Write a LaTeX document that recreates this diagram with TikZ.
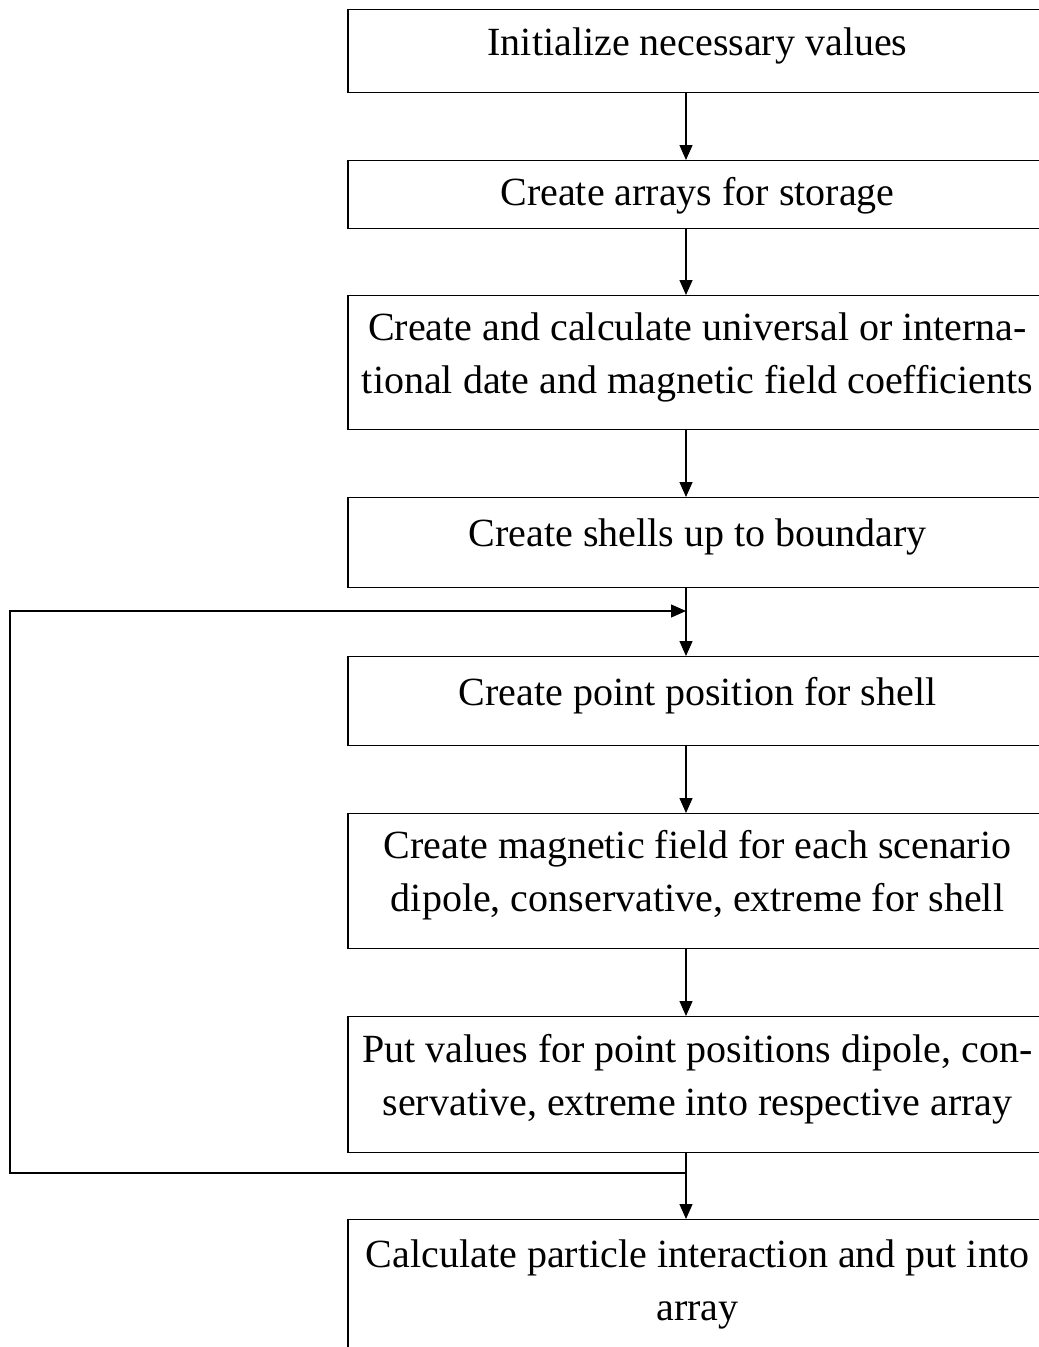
\documentclass[tikz,border=0pt]{standalone}
\usepackage{fontspec}
\setmainfont{Liberation Serif}
\usetikzlibrary{arrows.meta,positioning}

\begin{document}
\begin{tikzpicture}[x=1pt,y=1pt,
  stepbox/.style={draw, line width=1.3pt, minimum width=699pt, inner sep=0pt,
    align=center, anchor=north, text depth=20pt,
    font=\fontsize{40}{53}\selectfont},
  flow/.style={line width=1.3pt, -{Triangle[length=15pt,width=13pt]}}]
\useasboundingbox (0,0) rectangle (1039,-1347);
\coordinate (axis) at (686,0);
% main column
\node[stepbox, minimum height=83pt] (init) at (697.5,-9) {Initialize necessary values};
\node[stepbox, minimum height=68pt, text depth=7pt] (arrays) at (697.5,-160) {Create arrays for storage};
\node[stepbox, minimum height=134pt] (coeff) at (697.5,-295)
  {Create and calculate universal or interna-\\tional date and magnetic field coefficients};
\node[stepbox, minimum height=90pt] (shells) at (697.5,-497) {Create shells up to boundary};
\node[stepbox, minimum height=89pt] (point) at (697.5,-656) {Create point position for shell};
\node[stepbox, minimum height=135pt] (field) at (697.5,-813)
  {Create magnetic field for each scenario\\dipole, conservative, extreme for shell};
\node[stepbox, minimum height=136pt] (store) at (697.5,-1016)
  {Put values for point positions dipole, con-\\servative, extreme into respective array};
\node[stepbox, minimum height=140pt] (calc) at (697.5,-1219)
  {Calculate particle interaction and put into\\array};
% connectors
\draw[flow] (init.south -| axis) -- (arrays.north -| axis);
\draw[flow] (arrays.south -| axis) -- (coeff.north -| axis);
\draw[flow] (coeff.south -| axis) -- (shells.north -| axis);
\draw[flow] (shells.south -| axis) -- (point.north -| axis);
\draw[flow] (point.south -| axis) -- (field.north -| axis);
\draw[flow] (field.south -| axis) -- (store.north -| axis);
\draw[flow] (store.south -| axis) -- (calc.north -| axis);
% loop back
\coordinate (split) at (686,-1173);
\coordinate (join) at (686,-611);
\draw[flow] (split) -- ++(-676,0) |- (join);
\end{tikzpicture}
\end{document}
